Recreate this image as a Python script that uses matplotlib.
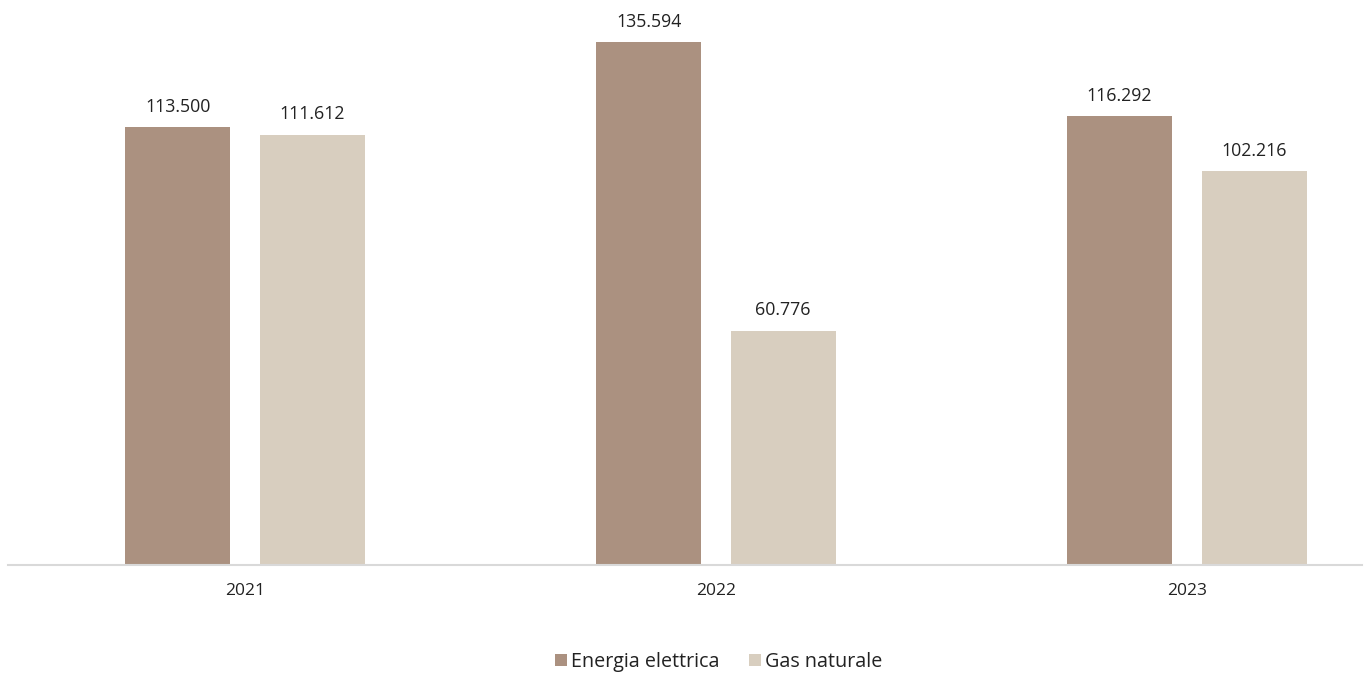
import matplotlib
matplotlib.use("Agg")
import matplotlib.pyplot as plt
from matplotlib.patches import Patch

years = ["2021", "2022", "2023"]
energia = [113.500, 135.594, 116.292]
gas = [111.612, 60.776, 102.216]
series_names = ["Energia elettrica", "Gas naturale"]
colors = ["#AB9180", "#D8CEBF"]

plt.rcParams["font.family"] = ["Open Sans", "DejaVu Sans"]

W, H = 1370, 673
fig = plt.figure(figsize=(W / 100, H / 100), dpi=100)
# plot area: from x=8 to 1362 px, baseline at y=565 px
left, right = 8 / W, 1362 / W
bottom, top = (H - 565) / H, (H - 10) / H
ax = fig.add_axes([left, bottom, right - left, top - bottom])

x = list(range(len(years)))
width = 0.223
off = 0.1428
b1 = ax.bar([i - off for i in x], energia, width, color=colors[0])
b2 = ax.bar([i + off for i in x], gas, width, color=colors[1])

def fmt(v):
    return f"{v:.3f}"

for bars, vals in ((b1, energia), (b2, gas)):
    for rect, v in zip(bars, vals):
        ax.annotate(fmt(v), (rect.get_x() + rect.get_width() / 2, rect.get_height()),
                    xytext=(0, 8), textcoords="offset points", ha="center", va="bottom",
                    fontsize=12.8, color="#222222")

ax.set_xlim(-0.503, 2.372)
ax.set_ylim(0, (565 - 10) / 3.857)
ax.set_xticks(x)
ax.set_xticklabels(years, fontsize=12.5, color="#222222")
ax.tick_params(axis="x", length=0, pad=13)
ax.set_yticks([])
for s in ("top", "right", "left"):
    ax.spines[s].set_visible(False)
ax.spines["bottom"].set_color("#D9D9D9")
ax.spines["bottom"].set_linewidth(1.5)

handles = [Patch(facecolor=c, edgecolor="none") for c in colors]
fig.legend(handles, series_names, loc="center", bbox_to_anchor=(719 / W, 1 - 662 / H),
           ncol=2, frameon=False, fontsize=14.2, handlelength=0.6, handleheight=0.6,
           handletextpad=0.2, columnspacing=1.5, labelcolor="#222222")

fig.savefig("out.png", dpi=100)
